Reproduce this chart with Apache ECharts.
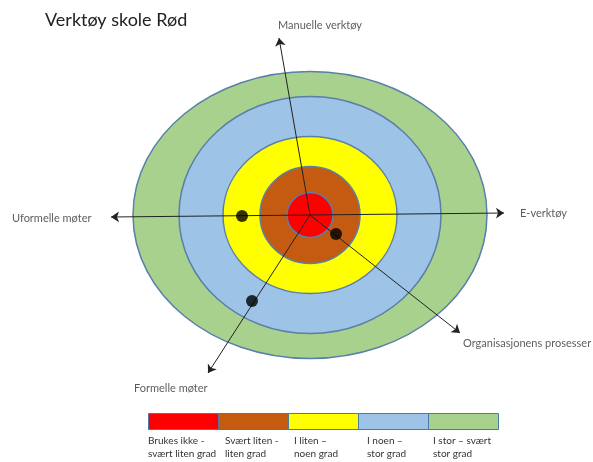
<!DOCTYPE html>
<html>
<head>
<meta charset="utf-8">
<style>
  html, body { margin: 0; padding: 0; background: #fff; }
  #main { width: 593px; height: 462px; }
</style>
<script src="https://cdn.jsdelivr.net/npm/echarts@6/dist/echarts.min.js"></script>
</head>
<body>
<div id="main"></div>
<script>
// nivåer (fra innerst til ytterst)
var levels = ['Brukes ikke -\nsvært liten grad', 'Svært liten -\nliten grad', 'I liten –\nnoen grad', 'I noen –\nstor grad', 'I stor – svært\nstor grad'];
var levelColors = ['#ff0000', '#c55a11', '#ffff00', '#9dc3e6', '#a9d18e'];
// halvakser for ringene, i enheter rundt sentrum
var ringRx = [23, 50, 87, 131, 177];
var ringRy = [22.5, 48.5, 78.5, 118.5, 143.5];

// aksene (endepunkt for pilene)
var axisNames = ['Manuelle verktøy', 'E-verktøy', 'Organisasjonens prosesser', 'Formelle møter', 'Uformelle møter'];
var axisEndX = [-31, 194, 150, -102, -199];
var axisEndY = [177, 2, -118, -158, -2];
// plassering av aksetekst
var axisLabelX = [-32, 210, 153, -176, -298];
var axisLabelY = [190, 2, -128, -173, -3];

// markerte punkter
var dotAxis = ['Uformelle møter', 'Organisasjonens prosesser', 'Formelle møter'];
var dotX = [-68, 26, -58];
var dotY = [-1, -19, -86];

(function(){
  var chartDom = document.getElementById('main');
  var myChart = echarts.init(chartDom);
  var option;

  var ringData = [];
  for (var i = ringRx.length - 1; i >= 0; i--) {
    ringData.push([ringRx[i], ringRy[i], i]);
  }

  var lineData = axisNames.map(function(n, i){
    return { name: n, coords: [[0, 0], [axisEndX[i], axisEndY[i]]] };
  });

  var labelData = axisNames.map(function(n, i){
    return { name: n, value: [axisLabelX[i], axisLabelY[i]] };
  });

  var dotData = dotAxis.map(function(n, i){
    return { name: n, value: [dotX[i], dotY[i]] };
  });

  // legende under figuren
  var legendItems = [];
  var legendTextX = [0, 7, 6, 9, 5];
  levels.forEach(function(l, i){
    legendItems.push({
      type: 'rect',
      left: 148 + i * 70,
      top: 413,
      shape: { width: 70, height: 16 },
      style: { fill: levelColors[i], stroke: '#4a78a8', lineWidth: 1 }
    });
    legendItems.push({
      type: 'text',
      left: 148 + i * 70 + legendTextX[i],
      top: 434,
      style: { text: l, fontSize: 10, lineHeight: 13, fill: '#333', fontFamily: 'Lato' }
    });
  });

  option = {
    animation: false,
    title: {
      text: 'Verktøy skole Rød',
      left: 40,
      top: 6,
      textStyle: { fontSize: 18, fontWeight: 'normal', color: '#222', fontFamily: 'Lato' }
    },
    grid: { left: 0, right: 0, top: 0, bottom: 0 },
    xAxis: { type: 'value', min: -310, max: 283, show: false },
    yAxis: { type: 'value', min: -247, max: 215, show: false },
    graphic: legendItems,
    series: [
      {
        type: 'custom',
        coordinateSystem: 'cartesian2d',
        clip: false,
        z: 1,
        renderItem: function(params, api){
          var c = api.coord([0, 0]);
          var s = api.size([api.value(0), api.value(1)]);
          return {
            type: 'ellipse',
            shape: { cx: c[0], cy: c[1], rx: s[0], ry: s[1] },
            style: { fill: levelColors[api.value(2)], stroke: '#5a7fa8', lineWidth: 1.5 }
          };
        },
        data: ringData
      },
      {
        type: 'lines',
        coordinateSystem: 'cartesian2d',
        z: 3,
        symbol: ['none', 'arrow'],
        symbolSize: 8,
        lineStyle: { color: '#222', width: 1, opacity: 1, curveness: 0 },
        data: lineData
      },
      {
        type: 'scatter',
        z: 4,
        symbolSize: 0,
        silent: true,
        label: {
          show: true,
          position: [0, 0],
          align: 'left',
          verticalAlign: 'middle',
          formatter: '{b}',
          fontSize: 11,
          color: '#333',
          fontFamily: 'Lato'
        },
        data: labelData
      },
      {
        type: 'scatter',
        z: 5,
        symbolSize: 12,
        itemStyle: { color: '#000' },
        data: dotData
      }
    ]
  };

  option && myChart.setOption(option);
})();
</script>
</body>
</html>
